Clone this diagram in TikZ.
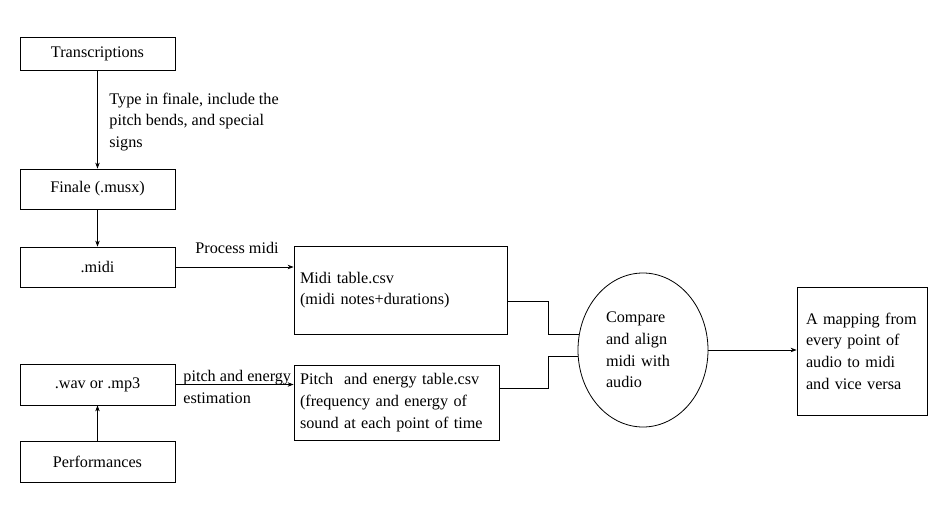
\documentclass[tikz,border=0pt]{standalone}
\usepackage{fontspec}
\setmainfont{Liberation Serif}
\usetikzlibrary{shapes.geometric,arrows.meta,calc}
\begin{document}
\begin{tikzpicture}[x=1pt,y=-1pt,
  font=\fontsize{16.2}{21.7}\selectfont,
  every path/.style={line width=0.8pt},
  box/.style={draw,minimum width=155pt,inner sep=0pt},
  lbox/.style={draw,align=left,inner xsep=#1,inner ysep=0pt},
  arr/.style={-{Stealth[length=6pt,width=4.5pt]}},
  lbl/.style={align=left,inner sep=0pt}]
\useasboundingbox (0,0) rectangle (942,522);
\node[box,minimum height=33pt] (tr) at (97.5,53.5) {Transcriptions};
\node[box,minimum height=40pt] (fin) at (97.5,189) {Finale (.musx)};
\node[box,minimum height=40pt] (mid) at (97.5,267) {.midi};
\node[box,minimum height=41pt] (wav) at (97.5,384.5) {.wav or .mp3};
\node[box,minimum height=41pt] (perf) at (97.5,461.5) {Performances};
\node[lbox=6pt,minimum width=213pt,minimum height=88pt,text width=201pt] (mt) at (400.5,290)
  {Midi table.csv\\(midi notes+durations)};
\node[lbox=6pt,minimum width=205pt,minimum height=75pt,text width=193pt] (pt) at (396.5,402.5)
  {Pitch\ \ and energy table.csv\\(frequency and energy of\\sound at each point of time};
\node[draw,ellipse,minimum width=130pt,minimum height=154pt,inner sep=0pt,align=left,text width=74pt] (ell) at (643,350)
  {Compare\\and align\\midi with\\audio};
\node[lbox=9pt,minimum width=130pt,minimum height=128pt,text width=112pt] (map) at (862,351)
  {A mapping from\\every point of\\audio to midi\\and vice versa};
\draw[arr] (tr) -- (fin);
\node[lbl,anchor=west] (l1) at (109,122) {Type in finale, include the\\pitch bends, and special\\signs};
\draw[arr] (fin) -- (mid);
\draw[arr] (mid.east) -- (mid.east -| mt.west);
\node[lbl] (l2) at (237,248) {Process midi};
\draw[arr] (perf) -- (wav);
\draw[arr] (wav.east) -- (wav.east -| pt.west);
\node[lbl,anchor=west] (l3) at (183,387) {pitch and energy\\estimation};
\draw ($(mt.south east)+(0,-33)$) -- ++(41,0) |- (ell.166);
\draw ($(pt.east)+(0,-14.5)$) -- ++(49,0) |- (ell.186);
\draw[arr] (ell.east) -- (ell.east -| map.west);
\end{tikzpicture}
\end{document}
